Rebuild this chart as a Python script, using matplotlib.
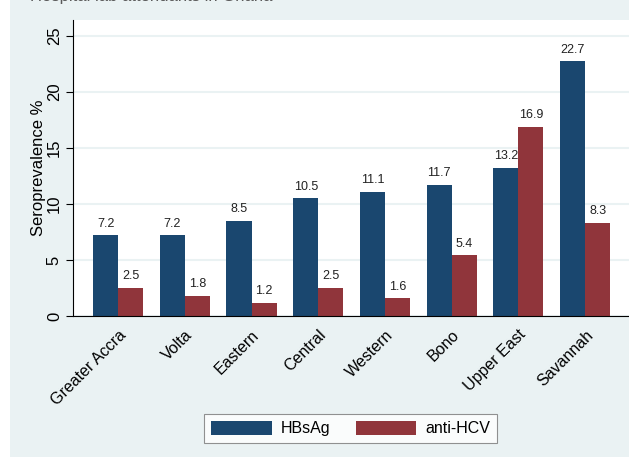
import numpy as np
import matplotlib.pyplot as plt
import matplotlib.patches as mpatches
from matplotlib.transforms import ScaledTranslation

plt.rcParams["font.family"] = ["Liberation Sans", "DejaVu Sans"]

regions = ["Greater Accra", "Volta", "Eastern", "Central", "Western",
           "Bono", "Upper East", "Savannah"]
hbsag = [7.2, 7.2, 8.5, 10.5, 11.1, 11.7, 13.2, 22.7]
anti_hcv = [2.5, 1.8, 1.2, 2.5, 1.6, 5.4, 16.9, 8.3]
y_ticks = [0, 5, 10, 15, 20, 25]

BLUE = "#1a476f"
RED = "#90353b"
BG = "#eaf2f3"

fig = plt.figure(figsize=(6.29, 4.57), dpi=100, facecolor="white")
# light blue-grey graph region, white strip at the far left
fig.patches.append(mpatches.Rectangle((10 / 629, 0), 1, 1, transform=fig.transFigure,
                                      facecolor=BG, edgecolor="none", zorder=-10))
# title is cropped at the top edge in the source image
fig.text(30 / 629, 1 - 1.5 / 457, "Hospital lab attendants in Ghana",
         fontsize=12, color="#5a5a5a", va="baseline", ha="left")

ax = fig.add_axes([73 / 629, 1 - 316 / 457, 1 - 73 / 629 + 0.002, 296 / 457])
ax.set_facecolor("white")

x = np.arange(len(regions))
w = 0.375
b1 = ax.bar(x - w / 2, hbsag, w, color=BLUE, label="HBsAg", zorder=2)
b2 = ax.bar(x + w / 2, anti_hcv, w, color=RED, label="anti-HCV", zorder=2)
for bars, vals in ((b1, hbsag), (b2, anti_hcv)):
    for rect, v in zip(bars, vals):
        ax.annotate(f"{v:.1f}", (rect.get_x() + rect.get_width() / 2, v),
                    xytext=(0, 4), textcoords="offset points",
                    ha="center", va="bottom", fontsize=9, color="#222222")

ax.set_xlim(-0.675, len(regions) - 1 + 0.675)
ax.set_ylim(0, 26.4)
ax.set_yticks(y_ticks)
ax.set_yticklabels([str(t) for t in y_ticks], rotation=90, va="center", fontsize=12)
ax.yaxis.grid(True, color=BG, linewidth=1.5, zorder=1)
ax.set_axisbelow(True)
ax.set_xticks(x)
ax.set_xticklabels(regions, rotation=45, ha="right", rotation_mode="anchor", fontsize=11.5)
shift = ScaledTranslation(5 / 100, 0, fig.dpi_scale_trans)
for lab in ax.get_xticklabels():
    lab.set_transform(lab.get_transform() + shift)
ax.tick_params(axis="x", length=0, pad=8)
ax.tick_params(axis="y", length=5, pad=3)
ax.set_ylabel("Seroprevalence %", fontsize=12, labelpad=1)
for s in ("top", "right"):
    ax.spines[s].set_visible(False)

leg = fig.legend(handles=[b1, b2], loc="center", ncol=2,
                 bbox_to_anchor=(350.5 / 629, 1 - 428.5 / 457),
                 fontsize=11.5, frameon=True, fancybox=False, edgecolor="#777777",
                 handlelength=3.8, handleheight=1.0, columnspacing=1.6,
                 borderpad=0.45, handletextpad=0.56, borderaxespad=0)
leg.get_frame().set_linewidth(0.8)

fig.savefig("out.png", dpi=100)
